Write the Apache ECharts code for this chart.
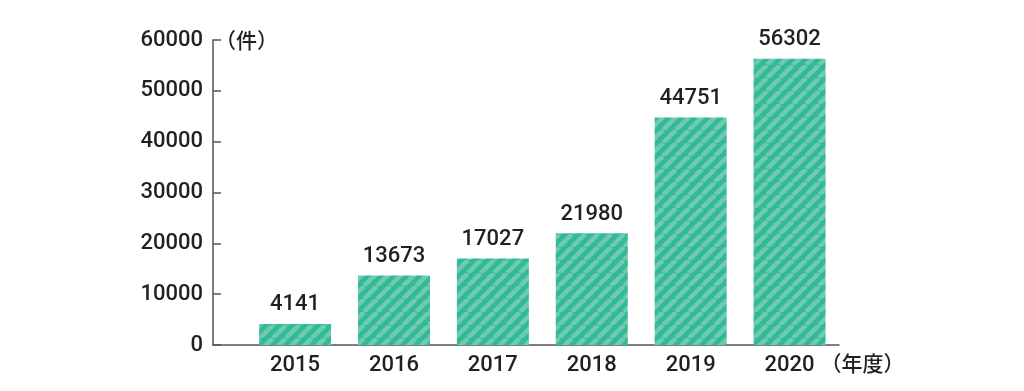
<!DOCTYPE html>
<html>
<head>
<meta charset="utf-8">
<script src="https://cdn.jsdelivr.net/npm/echarts@6/dist/echarts.min.js"></script>
<style>
html,body{margin:0;padding:0;background:#fff;}
#chart{width:1024px;height:391px;}
</style>
</head>
<body>
<div id="chart"></div>
<script>
const years = [2015, 2016, 2017, 2018, 2019, 2020];
const counts = [4141, 13673, 17027, 21980, 44751, 56302];
const yTicks = [0, 10000, 20000, 30000, 40000, 50000, 60000];
const yUnit = '（件）';
const xUnit = '（年度）';

function makeStripe() {
  const s = 13;
  const c = document.createElement('canvas');
  c.width = s; c.height = s;
  const g = c.getContext('2d');
  g.fillStyle = '#31ba96';
  g.fillRect(0, 0, s, s);
  g.strokeStyle = '#6fcab2';
  g.lineWidth = 4.6;
  for (const k of [-s, 0, s]) {
    g.beginPath();
    g.moveTo(k, s);
    g.lineTo(k + s, 0);
    g.stroke();
  }
  return c;
}

const font = 'Roboto, "Noto Sans CJK JP", sans-serif';
const cjkFont = '"Noto Sans CJK JP", sans-serif';
const textColor = '#231f20';
const axisColor = '#555555';

const chart = echarts.init(document.getElementById('chart'));
chart.setOption({
  animation: false,
  grid: { left: 213, right: 185, top: 40, bottom: 46, containLabel: false },
  xAxis: {
    type: 'value',
    min: 2014.17,
    max: 2020.5,
    splitLine: { show: false },
    axisTick: { show: false },
    axisLine: { show: true, lineStyle: { color: axisColor, width: 1.5 } },
    axisLabel: {
      customValues: years,
      formatter: v => String(v),
      color: textColor, fontFamily: font, fontSize: 22, fontWeight: 500, margin: 9
    },
    name: xUnit,
    nameLocation: 'end',
    nameGap: -23,
    nameTextStyle: {
      color: textColor, fontFamily: cjkFont, fontSize: 21, fontWeight: 500,
      align: 'left', verticalAlign: 'top', padding: [8, 0, 0, 0]
    }
  },
  yAxis: {
    type: 'value',
    min: 0,
    max: 60000,
    interval: 10000,
    splitLine: { show: false },
    axisLine: { show: true, lineStyle: { color: axisColor, width: 1.5 } },
    axisTick: { show: true, inside: true, length: 8, lineStyle: { color: axisColor, width: 1.5 } },
    axisLabel: {
      customValues: yTicks,
      formatter: v => String(v),
      color: textColor, fontFamily: font, fontSize: 22, fontWeight: 500, margin: 10
    },
    name: yUnit,
    nameLocation: 'end',
    nameGap: 0,
    nameTextStyle: {
      color: textColor, fontFamily: cjkFont, fontSize: 21, fontWeight: 500,
      align: 'left', verticalAlign: 'middle', padding: [0, 0, 0, 2]
    }
  },
  series: [{
    type: 'bar',
    barWidth: 72,
    data: years.map((y, i) => [y, counts[i]]),
    itemStyle: { color: { image: makeStripe(), repeat: 'repeat' } },
    label: {
      show: true, position: 'top', distance: 8,
      formatter: p => String(p.value[1]),
      color: textColor, fontFamily: font, fontSize: 22, fontWeight: 500
    }
  }]
});
</script>
</body>
</html>
